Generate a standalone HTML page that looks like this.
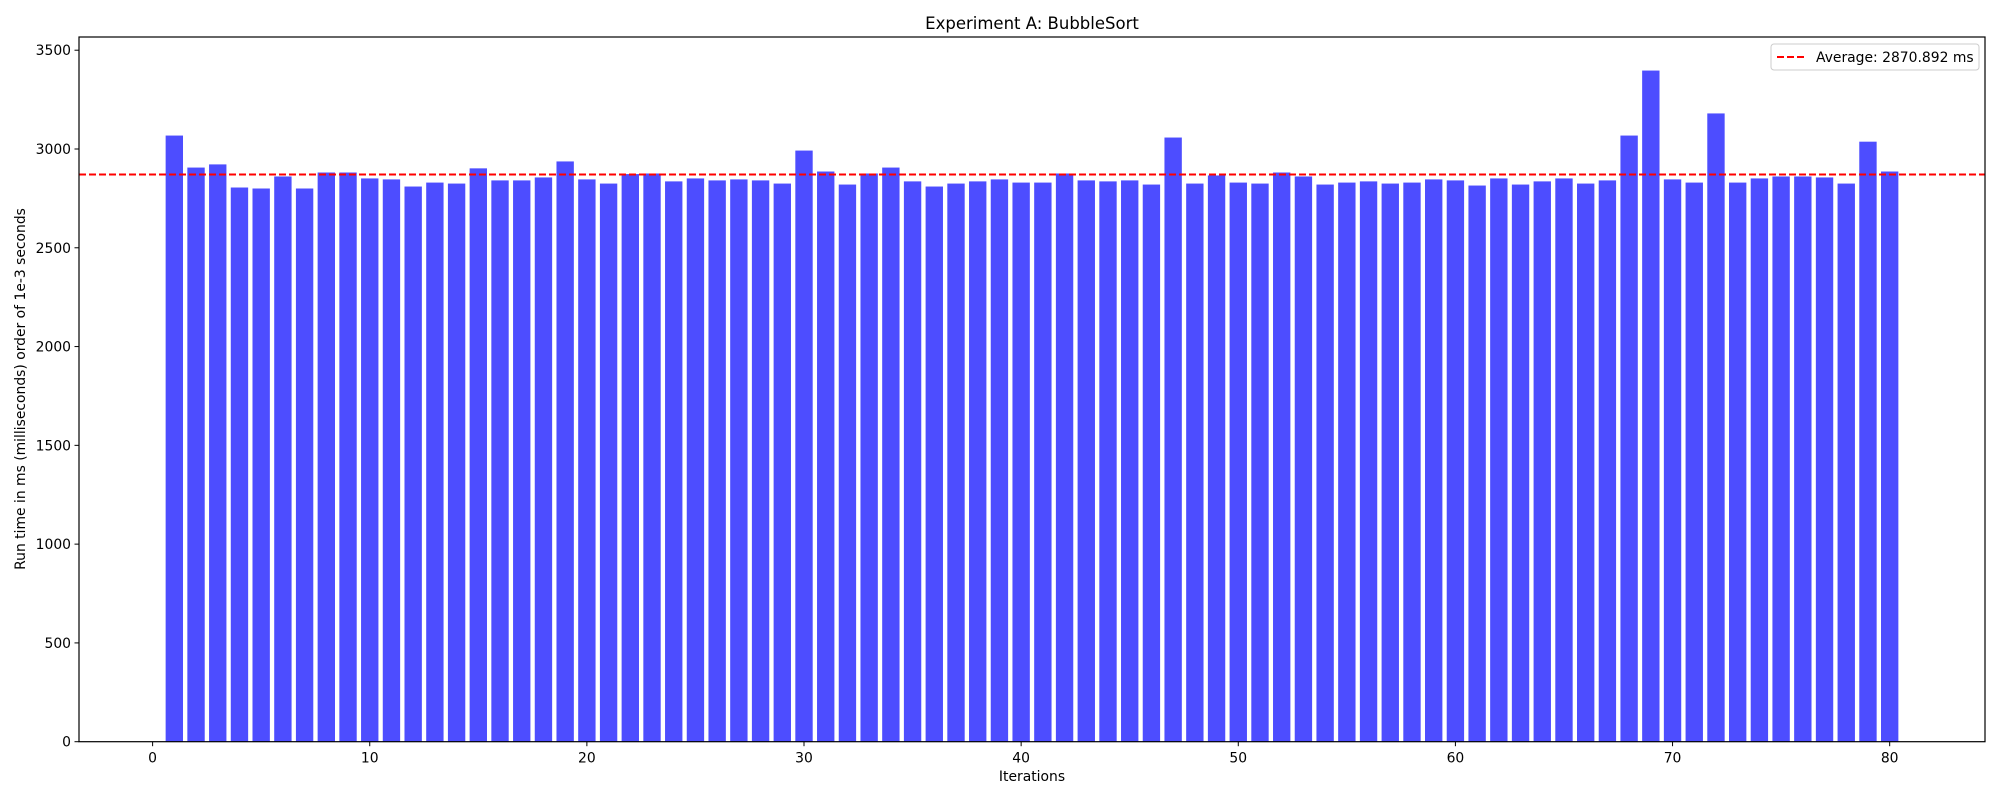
<!DOCTYPE html>
<html><head><meta charset="utf-8"><style>
body{margin:0;background:#fff}
svg{display:block;font-family:"DejaVu Sans","Liberation Sans",sans-serif}
</style></head><body>
<svg id="chart" width="2000" height="800" viewBox="0 0 2000 800" xmlns="http://www.w3.org/2000/svg">
<rect width="2000" height="800" fill="#fff"/>
<text x="1032" y="29" font-size="16.5" text-anchor="middle">Experiment A: BubbleSort</text>
<g id="bars"></g>
<g id="axes"></g>
<text x="1032" y="781" font-size="13.9" text-anchor="middle">Iterations</text>
<text transform="translate(25,389) rotate(-90)" font-size="13.9" text-anchor="middle">Run time in ms (milliseconds) order of 1e-3 seconds</text>
<g>
<rect x="1771" y="44" width="208" height="26" rx="3" fill="#fff" stroke="#ccc"/>
<line x1="1777" y1="57" x2="1805" y2="57" stroke="red" stroke-width="2" stroke-dasharray="7,3"/>
<text id="legend-text" x="1816" y="62" font-size="13.9">Average: 2870.892 ms</text>
</g>
</svg>
<script>
const iterations = Array.from({length:80},(_,i)=>i+1);
const runTimes = [3068,2906,2922,2805,2800,2861,2800,2881,2881,2851,
2846,2810,2830,2825,2902,2841,2841,2856,2937,2846,
2825,2873,2876,2836,2851,2841,2846,2841,2825,2992,
2886,2820,2876,2906,2836,2810,2825,2836,2846,2830,
2830,2876,2841,2836,2841,2820,3058,2825,2866,2830,
2825,2881,2861,2820,2830,2836,2825,2830,2846,2841,
2815,2851,2820,2836,2851,2825,2841,3068,3397,2846,
2830,3180,2830,2851,2861,2861,2856,2825,3037,2886];
const average = 2870.892;
const yTicks = [0,500,1000,1500,2000,2500,3000,3500];
const xTicks = [0,10,20,30,40,50,60,70,80];

const NS="http://www.w3.org/2000/svg";
const L=79,R=1985,T=37,B=741.7;
const xmin=0.6-0.05*79.8, xmax=80.4+0.05*79.8;
const ymax=Math.max(...runTimes)*1.05;
const xs=v=>L+(v-xmin)/(xmax-xmin)*(R-L);
const ys=v=>B-v/ymax*(B-T);
function mk(tag,attrs,parent){const e=document.createElementNS(NS,tag);for(const k in attrs)e.setAttribute(k,attrs[k]);parent.appendChild(e);return e;}
const bars=document.getElementById('bars'), axes=document.getElementById('axes');
const bw=xs(0.8)-xs(0);
iterations.forEach((it,i)=>{
  const r=mk('rect',{x:xs(it)-bw/2,y:ys(runTimes[i]),width:bw,height:B-ys(runTimes[i]),fill:'#4d4dff'},bars);
  
  
});
const avg=mk('line',{x1:L,x2:R,y1:ys(average),y2:ys(average),stroke:'red','stroke-width':2,'stroke-dasharray':'7,3'},bars);


const frame=mk('rect',{x:L,y:T,width:R-L,height:B-T,fill:'none',stroke:'#000','stroke-width':1.2},axes);


yTicks.forEach(t=>{
  mk('line',{x1:L-4.5,x2:L,y1:ys(t),y2:ys(t),stroke:'#000'},axes);
  const tx=mk('text',{x:L-8,y:ys(t)+5,'font-size':13.9,'text-anchor':'end'},axes);
  tx.textContent=t;
  
  
});
xTicks.forEach(t=>{
  mk('line',{x1:xs(t),x2:xs(t),y1:B,y2:B+4.5,stroke:'#000'},axes);
  const tx=mk('text',{x:xs(t),y:B+21,'font-size':13.9,'text-anchor':'middle'},axes);
  tx.textContent=t;
  
  
});
</script>
</body></html>
